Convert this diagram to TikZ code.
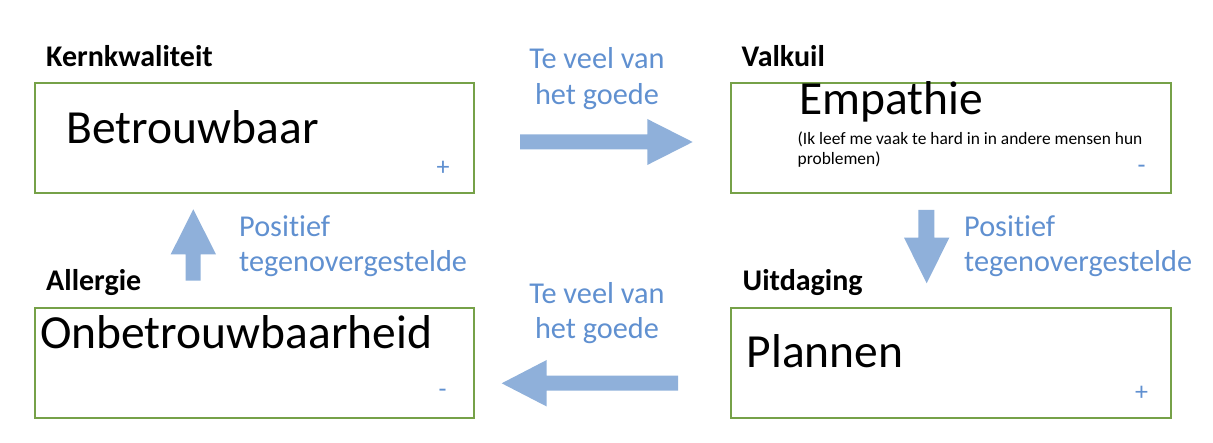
\documentclass[tikz,border=0pt]{standalone}
\usepackage{fontspec}
\setmainfont[Ligatures=CommonOff]{Carlito}
\definecolor{boxgreen}{RGB}{118,161,72}
\definecolor{arrowblue}{RGB}{143,176,218}
\definecolor{textblue}{RGB}{96,144,208}
\tikzset{
  qbox/.style={draw=boxgreen, line width=2pt},
  head/.style={anchor=base west, inner sep=0pt, font=\fontsize{30}{36}\selectfont\bfseries},
  big/.style={anchor=base west, inner sep=0pt, font=\fontsize{47.5}{56}\selectfont},
  small/.style={anchor=base west, inner sep=0pt, font=\fontsize{17.4}{20}\selectfont, align=left},
  sign/.style={anchor=center, inner sep=0pt, text=textblue, font=\fontsize{26}{30}\selectfont},
  lbl/.style={inner sep=0pt, text=textblue, font=\fontsize{30.3}{35}\selectfont},
  barrow/.style={fill=arrowblue, draw=none}
}
\begin{document}
\begin{tikzpicture}[x=1pt,y=-1pt]
\useasboundingbox (0,0) rectangle (1213,443);
% boxes
\draw[qbox] (35,83) rectangle (474,193);
\draw[qbox] (731,83) rectangle (1171,193);
\draw[qbox] (35,308) rectangle (474,418);
\draw[qbox] (731,308) rectangle (1171,418);
% headings
\node[head] (hk) at (46,66.5) {Kernkwaliteit};
\node[head] (hv) at (741.5,66.5) {Valkuil};
\node[head] (ha) at (46,290.5) {Allergie};
\node[head] (hu) at (742.5,290.5) {Uitdaging};
% main texts
\node[big] (tb) at (66.5,143.5) {Betrouwbaar};
\node[big] (te) at (799,115) {Empathie};
\node[small] (tp1) at (797.5,145) {(Ik leef me vaak te hard in in andere mensen hun};
\node[small] (tp2) at (797.5,165) {problemen)};
\node[big] (to) at (40,349) {Onbetrouwbaarheid};
\node[big] (tpl) at (746.5,367.5) {Plannen};
% signs
\node[sign] (s1) at (443,168) {+};
\node[sign] (s2) at (1141.5,169) {-};
\node[sign] (s3) at (442.5,393) {-};
\node[sign] (s4) at (1141.5,393) {+};
% block arrows
\fill[barrow] (520,134.3) -- (647.3,134.3) -- (647.3,119) -- (692.7,142) -- (647.3,165) -- (647.3,149.3) -- (520,149.3) -- cycle;
\fill[barrow] (678,375.7) -- (546.7,375.7) -- (546.7,360) -- (501.7,383.3) -- (546.7,406.5) -- (546.7,390.7) -- (678,390.7) -- cycle;
\fill[barrow] (185.7,280.7) -- (185.7,254.3) -- (170.7,254.3) -- (193.3,209.3) -- (216,254.3) -- (200.7,254.3) -- (200.7,280.7) -- cycle;
\fill[barrow] (918.3,210) -- (918.3,237.7) -- (904,237.7) -- (926.7,283.3) -- (949.3,237.7) -- (934.3,237.7) -- (934.3,210) -- cycle;
% labels
\node[lbl, anchor=base] (l1a) at (597,68.3) {Te veel van};
\node[lbl, anchor=base] (l1b) at (597,104.5) {het goede};
\node[lbl, anchor=base] (l2a) at (597,303.3) {Te veel van};
\node[lbl, anchor=base] (l2b) at (597,338.5) {het goede};
\node[lbl, anchor=base west] (l3a) at (239,236.7) {Positief};
\node[lbl, anchor=base west] (l3b) at (239,272) {tegenovergestelde};
\node[lbl, anchor=base west] (l4a) at (964,236.7) {Positief};
\node[lbl, anchor=base west] (l4b) at (964,272) {tegenovergestelde};
\end{tikzpicture}
\end{document}
